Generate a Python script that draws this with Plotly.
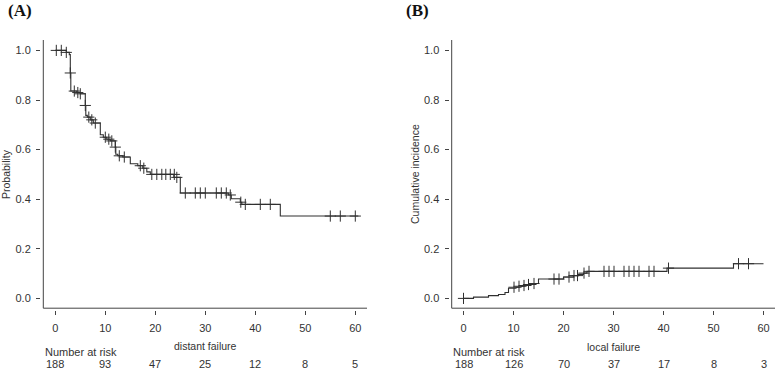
import plotly.graph_objects as go

# ---------------- data ----------------
# Panel A: distant failure (Kaplan-Meier survival)
a_time = [0, 2.2, 2.8, 3.0, 3.1, 4.3, 5.0, 6.0, 6.1, 6.4, 7.0, 7.6, 9.0, 9.6, 10.3, 11.0,
          12.0, 12.1, 12.5, 13.5, 15.0, 16.5, 17.5, 18.3, 19.0, 23.7, 25.0, 34.6, 35.2,
          37.0, 37.3, 45.0, 60.6]
a_surv = [1.0, 0.992, 0.983, 0.909, 0.836, 0.830, 0.825, 0.778, 0.738, 0.731, 0.720, 0.707,
          0.660, 0.650, 0.642, 0.635, 0.610, 0.581, 0.575, 0.570, 0.543, 0.535, 0.525,
          0.510, 0.500, 0.488, 0.425, 0.417, 0.402, 0.388, 0.379, 0.332, 0.332]
a_cens_t = [0.2, 1.2, 2.2, 3.0, 3.8, 4.5, 5.0, 6.0, 6.7, 7.3, 8.0, 10.0, 10.7, 11.3, 12.0,
            12.8, 13.8, 17.0, 17.7, 19.3, 20.3, 21.3, 22.1, 23.0, 23.8, 24.3, 26.0, 28.0,
            29.0, 30.0, 32.2, 33.2, 34.2, 35.0, 37.1, 38.0, 41.0, 43.0, 55.0, 57.0, 60.0]
a_cens_v = [1.0, 1.0, 0.992, 0.909, 0.836, 0.830, 0.825, 0.778, 0.731, 0.720, 0.707, 0.650,
            0.642, 0.635, 0.610, 0.575, 0.570, 0.535, 0.525, 0.500, 0.500, 0.500, 0.500,
            0.500, 0.500, 0.488, 0.425, 0.425, 0.425, 0.425, 0.425, 0.425, 0.425, 0.417,
            0.388, 0.379, 0.379, 0.379, 0.332, 0.332, 0.332]
a_risk = [188, 93, 47, 25, 12, 8, 5]

# Panel B: local failure (cumulative incidence)
b_time = [0, 2.0, 5.0, 7.0, 8.3, 9.0, 10.5, 11.5, 12.5, 13.5, 14.5, 15.0, 20.0, 22.0,
          23.0, 24.0, 24.7, 40.7, 54.0, 60.0]
b_inc = [0.0, 0.005, 0.011, 0.016, 0.024, 0.041, 0.045, 0.049, 0.052, 0.056, 0.060, 0.078,
         0.086, 0.092, 0.097, 0.102, 0.109, 0.122, 0.140, 0.140]
b_cens_t = [0, 10.1, 11.1, 12.1, 13.0, 14.1, 18.1, 19.1, 21.1, 22.1, 22.8, 24.1, 25.1, 28.1,
            29.1, 30.1, 32.1, 33.1, 34.1, 35.1, 37.1, 38.1, 41.0, 55.0, 57.0]
b_cens_v = [0.0, 0.045, 0.049, 0.052, 0.056, 0.060, 0.078, 0.078, 0.086, 0.092, 0.092,
            0.102, 0.109, 0.109, 0.109, 0.109, 0.109, 0.109, 0.109, 0.109, 0.109, 0.109,
            0.122, 0.140, 0.140]
b_risk = [188, 126, 70, 37, 17, 8, 3]

x_ticks = [0, 10, 20, 30, 40, 50, 60]
y_ticks = [0.0, 0.2, 0.4, 0.6, 0.8, 1.0]
y_ticklabels = ["0.0", "0.2", "0.4", "0.6", "0.8", "1.0"]

# ---------------- layout geometry ----------------
W, H = 777, 371
LINE = "#444444"
TXT = "#333333"
FONT = "Liberation Sans, Arial, sans-serif"


def px(x):
    return x / W


def py(y):
    return 1 - y / H


fig = go.Figure()

for (t, v, ct, cv, xa, ya) in [
    (a_time, a_surv, a_cens_t, a_cens_v, "x", "y"),
    (b_time, b_inc, b_cens_t, b_cens_v, "x2", "y2"),
]:
    fig.add_trace(go.Scatter(x=t, y=v, mode="lines", line=dict(shape="hv", color="#303030", width=1.1),
                             xaxis=xa, yaxis=ya, showlegend=False, hoverinfo="skip"))
    fig.add_trace(go.Scatter(x=ct, y=cv, mode="markers",
                             marker=dict(symbol="cross-thin", size=8, line=dict(color="#303030", width=1)),
                             xaxis=xa, yaxis=ya, showlegend=False, hoverinfo="skip"))

# zero value -> pixel 298.4 ; 248 px per unit ; plot area top 40, bottom 310
y_range = [(298.4 - 310) / 248, (298.4 - 40) / 248]
ydom = [py(310), py(40)]

common_x = dict(tickmode="array", tickvals=x_ticks, ticks="outside", ticklen=4, tickcolor=LINE,
                tickwidth=1, showline=False, showgrid=False, zeroline=False, ticklabelstandoff=4,
                tickfont=dict(family=FONT, size=11, color=TXT), fixedrange=True)
common_y = dict(tickmode="array", tickvals=y_ticks, ticktext=y_ticklabels, ticks="outside",
                ticklen=4, tickcolor=LINE, tickwidth=1, showline=False, showgrid=False,
                zeroline=False, tickfont=dict(family=FONT, size=11, color=TXT), range=y_range,
                domain=ydom, fixedrange=True, ticklabelstandoff=3)

# Panel A: zero month at 55.3 px, 5 px per month; plot area left 41, right 367
fig.update_layout(
    xaxis=dict(common_x, domain=[px(41), px(367)], range=[(41 - 55.3) / 5, (367 - 55.3) / 5], anchor="y"),
    yaxis=dict(common_y, anchor="x"),
    xaxis2=dict(common_x, domain=[px(449.5), px(775)], range=[(449.5 - 463.5) / 5, (775 - 463.5) / 5], anchor="y2"),
    yaxis2=dict(common_y, anchor="x2"),
)

# L-shaped box lines (drawn 2 px inside the tick start)
shapes = []
for xr, yr, x0px, x1px, zero in [("x", "y", 43.3, 367, 55.3), ("x2", "y2", 451.7, 775, 463.5)]:
    xl = (x0px - zero) / 5
    xr_ = (x1px - zero) / 5
    ybot = (298.4 - 308.2) / 248
    ytop = (298.4 - 40) / 248
    shapes.append(dict(type="line", xref=xr, yref=yr, x0=xl, x1=xr_, y0=ybot, y1=ybot,
                       line=dict(color=LINE, width=1)))
    shapes.append(dict(type="line", xref=xr, yref=yr, x0=xl, x1=xl, y0=ybot, y1=ytop,
                       line=dict(color=LINE, width=1)))


def label(text, x, y, size=10.5, xanchor="center", xref="paper", angle=0, family=FONT, color=TXT):
    return dict(text=text, x=x, y=py(y), xref=xref, yref="paper", showarrow=False,
                xanchor=xanchor, yanchor="middle", textangle=angle,
                font=dict(family=family, size=size, color=color))


SERIF = "Liberation Serif, Times New Roman, serif"
ann = [
    label("<b>(A)</b>", px(20), 11, size=17, family=SERIF, color="#111111"),
    label("<b>(B)</b>", px(418), 11, size=17, family=SERIF, color="#111111"),
    label("Probability", px(6), 174, angle=-90),
    label("Cumulative incidence", px(415), 174, angle=-90),
    label("distant failure", px(205), 346),
    label("local failure", px(613), 347),
]
for lx, xr, risk in [(43, "x", a_risk), (451.5, "x2", b_risk)]:
    ann.append(label("Number at risk", px(lx), 352, size=11, xanchor="left"))
    for t, n in zip(x_ticks, risk):
        ann.append(label(str(n), t, 364, size=11, xref=xr))

fig.update_layout(width=W, height=H, margin=dict(l=0, r=0, t=0, b=0), paper_bgcolor="white",
                  plot_bgcolor="white", shapes=shapes, annotations=ann, showlegend=False)

fig.write_html("out.html", config={"displayModeBar": False, "staticPlot": True})

# remove the default page margin so the figure sits at the window origin
with open("out.html", "r", encoding="utf-8") as f:
    html = f.read()
html = html.replace("<body>", "<body style=\"margin:0;padding:0;overflow:hidden\">", 1)
with open("out.html", "w", encoding="utf-8") as f:
    f.write(html)
